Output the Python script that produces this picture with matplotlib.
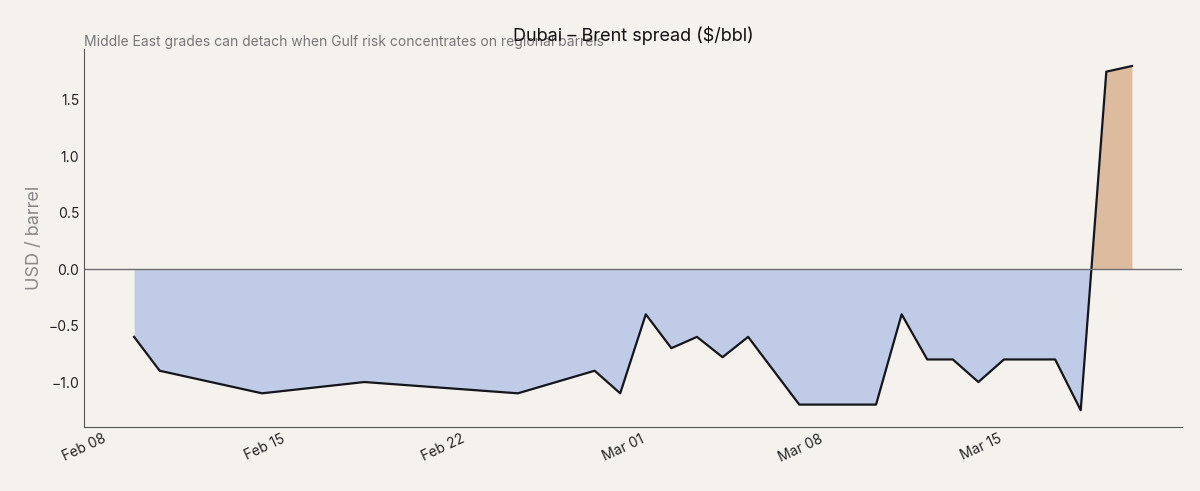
import numpy as np
import pandas as pd
import matplotlib
matplotlib.use("Agg")
import matplotlib.pyplot as plt
import matplotlib.dates as mdates

plt.rcParams['font.family'] = ['Inter', 'DejaVu Sans']

DATES = ["2025-02-09", "2025-02-10", "2025-02-14", "2025-02-18", "2025-02-24",
         "2025-02-27", "2025-02-28", "2025-03-01", "2025-03-02", "2025-03-03",
         "2025-03-04", "2025-03-05", "2025-03-07", "2025-03-10", "2025-03-11",
         "2025-03-12", "2025-03-13", "2025-03-14", "2025-03-15", "2025-03-17",
         "2025-03-18", "2025-03-19", "2025-03-20"]
SPREAD = [-0.6, -0.9, -1.1, -1.0, -1.1, -0.9, -1.1, -0.4, -0.7, -0.6,
          -0.78, -0.6, -1.2, -1.2, -0.4, -0.8, -0.8, -1.0, -0.8, -0.8,
          -1.25, 1.75, 1.8]

BG = "#f5f2ed"
x = pd.to_datetime(DATES)
y = np.array(SPREAD)

fig, ax = plt.subplots(figsize=(12, 4.91), dpi=100)
fig.patch.set_facecolor(BG)
ax.set_facecolor(BG)

ax.fill_between(x, y, 0, where=y < 0, interpolate=True, color="#b3c2e6", alpha=0.8, lw=0)
ax.fill_between(x, y, 0, where=y >= 0, interpolate=True, color="#d4a47f", alpha=0.7, lw=0)
ax.plot(x, y, color="#15161c", lw=1.6)
ax.axhline(0, color="#6e6e6e", lw=1)

ax.set_xlim(pd.Timestamp("2025-02-07 01:00"), pd.Timestamp("2025-03-21 23:00"))
ax.set_ylim(-1.4, 1.95)
ax.xaxis.set_major_locator(mdates.WeekdayLocator(byweekday=mdates.SA))
ax.xaxis.set_major_formatter(mdates.DateFormatter("%b %d"))
plt.setp(ax.get_xticklabels(), rotation=25, ha="right")
ax.tick_params(labelsize=10, colors="#222222", length=0)

for s in ("top", "right"):
    ax.spines[s].set_visible(False)
for s in ("left", "bottom"):
    ax.spines[s].set_color("#555555")

ax.set_ylabel("USD / barrel", fontsize=13, color="#888888")
ax.set_title("Dubai \u2013 Brent spread ($/bbl)", fontsize=13, color="#111111")
ax.text(0.0, 1.0, "Middle East grades can detach when Gulf risk concentrates on regional barrels",
        transform=ax.transAxes, fontsize=10, color="#777777", va="bottom")

fig.subplots_adjust(left=0.07, right=0.985, top=0.9, bottom=0.13)
fig.savefig("out.png", dpi=100, facecolor=BG)
